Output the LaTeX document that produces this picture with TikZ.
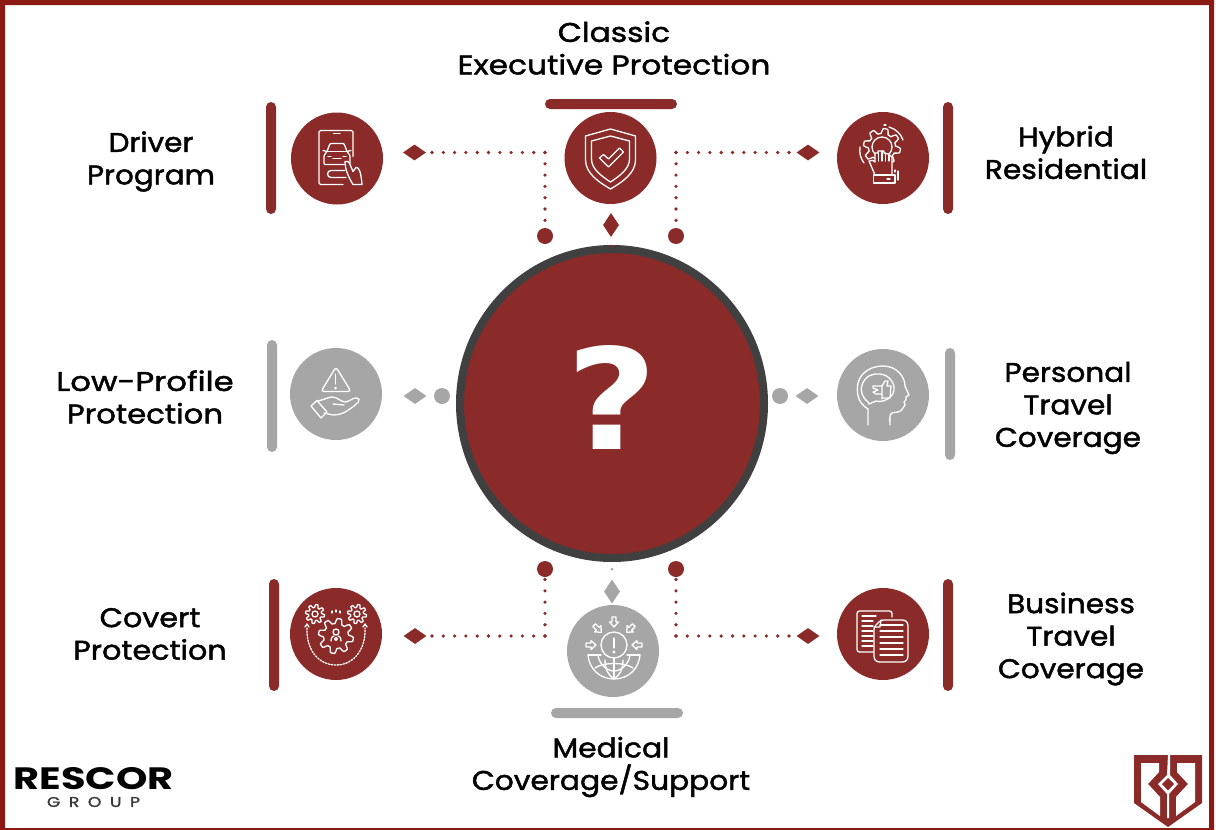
\documentclass[tikz,border=0pt]{standalone}
\usepackage{fontspec}
\usepackage{graphicx}
\usetikzlibrary{shapes.geometric}
\newfontfamily\labfont{Poppins}[FakeBold=1.6]
\newfontfamily\logofont{Poppins}[BoldFont=Poppins Bold]
\newfontfamily\groupfont{Poppins}[FakeBold=1.5,LetterSpace=50]
\newfontfamily\qfont{DejaVu Sans}
\newcommand{\lw}[1]{\addfontfeature{FakeStretch=#1}}
\definecolor{rust}{HTML}{8A2B2A}
\definecolor{ash}{HTML}{A6A6A6}
\definecolor{frame}{HTML}{8B1A14}
\definecolor{ring}{HTML}{404040}
\newcommand{\gearline}[5]{% cx cy R h n
  \draw[ico] plot[domain=0:360,samples=161] ({#1+(#3+#4*max(-1,min(1,1.8*sin(#5*\x))))*cos(\x)},{#2+(#3+#4*max(-1,min(1,1.8*sin(#5*\x))))*sin(\x)}) -- cycle;}
\tikzset{
  badge/.style={circle,minimum size=92pt,inner sep=0pt,fill=#1},
  hbar/.style={rectangle,rounded corners=5pt,minimum width=132pt,minimum height=10pt,inner sep=0pt,fill=#1},
  vbar/.style={rectangle,rounded corners=5pt,minimum width=10pt,minimum height=112pt,inner sep=0pt,fill=#1},
  hdiam/.style={diamond,minimum width=23pt,minimum height=16pt,inner sep=0pt,fill=#1},
  vdiam/.style={diamond,minimum width=16pt,minimum height=24pt,inner sep=0pt,fill=#1},
  bead/.style={circle,minimum size=16pt,inner sep=0pt,fill=#1},
  tiny/.style={circle,minimum size=3pt,inner sep=0pt,fill=#1},
  dots/.style={draw=rust,line width=3.6pt,line cap=round,dash pattern=on 0pt off 11.3pt},
  lab/.style={align=center,inner sep=0pt,text=black,font=\labfont\fontsize{27}{32.5}\selectfont},
  ico/.style={draw=white,line width=1.3pt,line join=round,line cap=round,fill=none},
  icof/.style={ico,fill=#1}
}
\begin{document}
\begin{tikzpicture}[x=1pt,y=-1pt]
\useasboundingbox (0,0) rectangle (1216,830);
\fill[white] (0,0) rectangle (1216,830);
\fill[frame,even odd rule] (0,0) rectangle (1214,830) (5,5) rectangle (1209,828);

% central disc
\node[ellipse,minimum width=304pt,minimum height=309pt,inner sep=0pt,fill=rust,draw=ring,line width=8pt] (hub) at (612,403.5) {};
\node[inner sep=0pt,text=white] (qm) at (612.5,397) {\resizebox{91pt}{104pt}{\qfont\bfseries ?}};

% bars
\node[vbar=rust] (bDriver) at (271,158) {};
\node[hbar=rust] (bClassic) at (611,104) {};
\node[vbar=rust] (bHybrid) at (948,158) {};
\node[vbar=ash]  (bLow) at (272,396) {};
\node[vbar=ash]  (bPersonal) at (950,404) {};
\node[vbar=rust] (bCovert) at (274,635) {};
\node[vbar=rust] (bBusiness) at (948,635) {};
\node[hbar=ash]  (bMedical) at (617,713) {};

% badges
\node[badge=rust] (nDriver) at (337,158.5) {};
\node[badge=rust] (nClassic) at (610.5,158) {};
\node[badge=rust] (nHybrid) at (883,158) {};
\node[badge=ash]  (nLow) at (336,394) {};
\node[badge=ash]  (nPersonal) at (883,395) {};
\node[badge=rust] (nCovert) at (336,634) {};
\node[badge=ash]  (nMedical) at (613,651) {};
\node[badge=rust] (nBusiness) at (883,634) {};

% diamonds and beads
\node[hdiam=rust] (dDriver) at (414.5,152.5) {};
\node[hdiam=rust] (dHybrid) at (808,152.5) {};
\node[vdiam=rust] (dClassic) at (611,225) {};
\node[hdiam=ash]  (dLow) at (415,396) {};
\node[bead=ash]   (pLow) at (442,396) {};
\node[bead=ash]   (pPersonal) at (780,396) {};
\node[hdiam=ash]  (dPersonal) at (807,396) {};
\node[hdiam=rust] (dCovert) at (415,636) {};
\node[vdiam=ash]  (dMedical) at (612,591.5) {};
\node[hdiam=rust] (dBusiness) at (808,636) {};
\node[bead=rust]  (tl) at (545,236) {};
\node[bead=rust]  (tr) at (676,236) {};
\node[bead=rust]  (bl) at (545,569) {};
\node[bead=rust]  (br) at (676,569) {};
\node[tiny=rust]  (tinyTop) at (611,246) {};
\node[tiny=ash]   (tinyBot) at (612,569) {};

% dotted connectors
\coordinate (cTL) at (tl |- dDriver);
\coordinate (cTR) at (tr |- dHybrid);
\coordinate (cBL) at (bl |- dCovert);
\coordinate (cBR) at (br |- dBusiness);
\draw[dots] (cTL) -- (tl.north);
\draw[dots] (cTL) -- (dDriver.east);
\draw[dots] (cTR) -- (tr.north);
\draw[dots] (cTR) -- (dHybrid.west);
\draw[dots] (cBL) -- (bl.south);
\draw[dots] (cBL) -- (dCovert.east);
\draw[dots] (cBR) -- (br.south);
\draw[dots] (cBR) -- (dBusiness.west);

% labels
\node[lab] (tClassic) at (614,48) {\lw{1.16}Classic\\\lw{1.16}Executive Protection};
\node[lab] (tDriver) at (151,161.5) {\lw{1.09}Driver\\\lw{1.09}Program};
\node[lab] (tHybrid) at (1066,152.5) {\lw{1.10}Hybrid\\\lw{1.10}Residential};
\node[lab] (tLow) at (145,397) {\lw{1.20}Low-Profile\\\lw{1.14}Protection};
\node[lab] (tPersonal) at (1068,408) {\lw{1.095}Personal\\\lw{1.095}Travel\\\lw{1.095}Coverage};
\node[lab] (tCovert) at (150,634) {\lw{1.12}Covert\\\lw{1.12}Protection};
\node[lab] (tBusiness) at (1071,639) {\lw{1.095}Business\\\lw{1.095}Travel\\\lw{1.095}Coverage};
\node[lab] (tMedical) at (611,767) {\lw{1.10}Medical\\\lw{1.10}Coverage/Support};

% icon: shield
\begin{scope}[shift={(nClassic.center)}]
\draw[ico] (0,-29) -- (25,-22) -- (25,2) .. controls (25,15) and (12,24) .. (0,31) .. controls (-12,24) and (-25,15) .. (-25,2) -- (-25,-22) -- cycle;
\draw[ico] (0,-22) -- (19,-17) -- (19,1) .. controls (19,11) and (9,18) .. (0,24) .. controls (-9,18) and (-19,11) .. (-19,1) -- (-19,-17) -- cycle;
\draw[ico] (-11,0) -- (-7,-3.5) -- (-2,1) -- (9,-10) -- (13,-6) -- (-2,9) -- cycle;
\end{scope}

% icon: phone with car
\begin{scope}[shift={(nDriver.center)}]
\draw[ico,rounded corners=1.5pt] (6,26) -- (-18,26) -- (-18,-28) -- (16,-28) -- (16,-2);
\draw[ico] (-3.5,-25) -- (3,-25);
\draw[ico,rounded corners=1pt] (-10,-7) -- (-7,-15) -- (7,-15) -- (10,-7) -- (13,-3) -- (13,6) -- (-13,6) -- (-13,-3) -- cycle;
\draw[ico] (-10,-7) -- (10,-7);
\draw[ico] (-14,-8) -- (-10,-7) (14,-8) -- (10,-7);
\draw[ico] (-4,0) -- (4,0) (-9,-2) -- (-6,-2) (6,-2) -- (9,-2);
\draw[ico] (8,12) -- (-6,12) arc[start angle=270,end angle=90,radius=3.5] -- (9,19);
\draw[ico,fill=rust] (8,3) .. controls (10,2) and (12,3) .. (13,6) -- (16,13) -- (19,9) .. controls (22,8) and (24,14) .. (25,26) -- (16,26) .. controls (11,18) and (8,10) .. (8,3);
\end{scope}

% icon: hand and gear
\begin{scope}[shift={(nHybrid.center)}]
\gearline{-1}{-11}{16}{2.5}{8}
\draw[ico] (-1,-11) circle[radius=10];
\draw[ico,fill=rust] (-8,17) -- (-14,3) .. controls (-11,2) and (-9,2) .. (-8,4) -- (-8,-5) -- (-5,-5) -- (-5,-7) -- (-2,-7) -- (1,-7) -- (1,-5) -- (5,-4) -- (9,-1) -- (9,17) -- cycle;
\draw[ico] (-4.5,-5) -- (-4.5,3) (-1,-7) -- (-1,3) (2.5,-5) -- (2.5,3) (6,-3) -- (6,3);
\draw[ico] (-9.5,17) rectangle (12,25);
\draw[ico] (4,21) -- (7,21);
\draw[ico] (-23,-11) .. controls (-24,-4) and (-22,1) .. (-19,5);
\draw[ico] (6,-31) .. controls (13,-29) and (18,-24) .. (20,-18);
\draw[ico] (1,-33) -- (3,-33);
\draw[ico] (12,12) -- (12,14) (15,13) -- (15,22);
\end{scope}

% icon: warning and hand
\begin{scope}[shift={(nLow.center)}]
\draw[ico,rounded corners=3pt] (0,-27) -- (15,-2.5) -- (-15,-2.5) -- cycle;
\draw[ico] (-0.5,-20) -- (-0.5,-10);
\fill[white] (-0.5,-6) circle[radius=1.5];
\draw[ico] (-18,7) .. controls (-10,5) and (-7,3) .. (-4,3) .. controls (2,3) and (4,8) .. (10,8) .. controls (16,6) and (19,2) .. (23,5) .. controls (24,8) and (22,8) .. (18,12) .. controls (10,18) and (5,21) .. (-2,21) .. controls (-6,21) and (-9,19) .. (-12,19);
\draw[ico] (-3,10) -- (8,11);
\draw[ico] (-25,12) -- (-19,6.5) -- (-9,18) -- (-15,24) -- cycle;
\end{scope}

% icon: head with thumb
\begin{scope}[shift={(nPersonal.center)}]
\draw[ico] (-15,30) -- (-15,14) .. controls (-25,8) and (-27,-2) .. (-25,-12) .. controls (-22,-24) and (-10,-29) .. (0,-29) .. controls (14,-29) and (22,-18) .. (22,-9) -- (26,0) -- (23,2) -- (23,5) -- (21,7) -- (22,10) -- (20,13) .. controls (18,18) and (12,17) .. (9,18) .. controls (6,19) and (7,26) .. (7,30);
\draw[ico] (-14,9) -- (-15,7) .. controls (-21,2) and (-23,-4) .. (-21,-10) .. controls (-18,-19) and (-10,-22) .. (-3,-21) .. controls (7,-20) and (12,-11) .. (11,-5) .. controls (10,3) and (0,8) .. (-7,6) -- cycle;
\draw[ico] (-10,-9) -- (-1,-9) -- (-1,4) (-10,-9) -- (-10,-7) -- (-5,-5) -- (-10,-3) -- (-7,-1) -- (-1,-1);
\draw[ico] (-1,-9) -- (2,-14) -- (5,-14) -- (4,-9) -- (8,-9) -- (7,3) -- (-1,3);
\end{scope}

% icon: gears with person
\begin{scope}[shift={(nCovert.center)}]
\gearline{-21}{-20}{8}{1.5}{8}
\gearline{21}{-20}{8}{1.5}{8}
\draw[ico] (-21,-20) circle[radius=3];
\draw[ico] (21,-20) circle[radius=3];
\gearline{0}{2}{15}{2.5}{8}
\draw[ico] (0,-2) circle[radius=3];
\draw[ico] (-5,7) .. controls (-5,3) and (-3,2) .. (-2,2) (5,7) .. controls (5,3) and (3,2) .. (2,2);
\draw[ico] (0,5) circle[radius=1.5];
\draw[ico] (-4,-23) -- (-4,-21) (0,-24) -- (0,-22) (4,-23) -- (4,-21);
\draw[ico,dash pattern=on 1.5pt off 1.5pt] (-29,-6) .. controls (-30,15) and (-18,31) .. (0,31) .. controls (18,31) and (30,15) .. (29,-6);
\draw[ico] (-31,-7) -- (-29,-10) -- (-27,-7) (31,-7) -- (29,-10) -- (27,-7);
\end{scope}

% icon: globe with alert
\begin{scope}[shift={(nMedical.center)}]
\draw[ico] (1,-6) circle[radius=13];
\draw[ico] (1,-13) -- (1,-3);
\fill[white] (1,1) circle[radius=1.7];
\draw[ico] (-25,4) -- (-12,4) (14,4) -- (27,4);
\draw[ico] (-25,4) .. controls (-24,17) and (-14,28) .. (1,28) .. controls (16,28) and (26,17) .. (27,4);
\draw[ico] (-15,4) .. controls (-14,13) and (-6,20) .. (1,20) .. controls (8,20) and (16,13) .. (17,4);
\draw[ico] (-18,17) .. controls (-10,11) and (12,11) .. (20,17);
\draw[ico] (1,7) -- (1,28);
\draw[ico] (-8,9) .. controls (-8,18) and (-5,24) .. (1,28) .. controls (7,24) and (10,18) .. (10,9);
\foreach \a in {0,45,90,135,180}{
  \begin{scope}[shift={(1,-6)},rotate=\a]
  \draw[ico] (28,-2) -- (23,-2) -- (23,-4.5) -- (18,0) -- (23,4.5) -- (23,2) -- (28,2) -- cycle;
  \end{scope}
}
\end{scope}

% icon: documents
\begin{scope}[shift={(nBusiness.center)}]
\draw[ico,rounded corners=2.5pt] (-7,18) -- (-26,18) -- (-26,-23) -- (9,-23) -- (9,-17);
\draw[ico] (-21,-18) -- (-7,-18);
\foreach \y in {-13,-8,-3,2,7,12}{\draw[ico] (-21,\y) -- (-10,\y);}
\draw[ico,rounded corners=2.5pt,fill=rust] (-2,-14) -- (22,-14) -- (25,-11) -- (25,25) -- (22,28) -- (-6,28) -- (-9,25) -- (-9,-7) -- cycle;
\draw[ico] (-9,-7) -- (-3,-7) -- (-2,-14);
\foreach \y in {-9,-3,3,9,15,21}{\draw[ico] (-3,\y) -- (20,\y);}
\end{scope}

% RESCOR logo
\node[inner sep=0pt,text=black] (logoA) at (93.5,779) {\resizebox{160pt}{22pt}{\logofont\bfseries RESCOR}};
\node[inner sep=0pt,text=ring!90!black] (logoB) at (93.5,802) {\resizebox{93pt}{10pt}{\groupfont GROUP}};

% shield logo
\begin{scope}
\fill[rust] (1134,755) -- (1202,755) -- (1202,803) -- (1168,827) -- (1134,803) -- cycle;
\fill[white] (1141,763) -- (1159,763) -- (1159,772) -- (1148,784) -- (1160,797) -- (1160,816) -- (1141,802) -- cycle;
\fill[white] (1195,763) -- (1177,763) -- (1177,772) -- (1188,784) -- (1176,797) -- (1176,816) -- (1195,802) -- cycle;
\fill[white] (1168,755) -- (1170,755) -- (1170,775) -- (1178,784) -- (1169,794) -- (1169,818) -- (1167,818) -- (1167,794) -- (1158,784) -- (1167,775) -- cycle;
\fill[rust] (1168,778) -- (1174,784) -- (1168,790.5) -- (1162,784) -- cycle;
\end{scope}
\end{tikzpicture}
\end{document}
